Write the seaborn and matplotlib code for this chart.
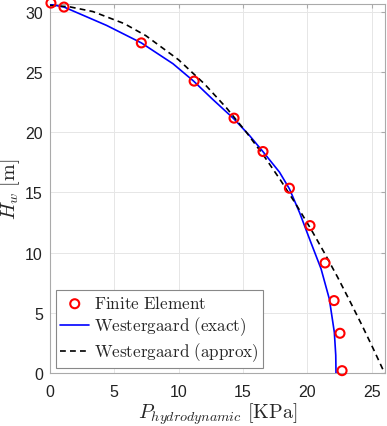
import matplotlib
matplotlib.use("Agg")
import matplotlib.pyplot as plt
import seaborn as sns
import pandas as pd

# Finite Element results (pressure in KPa, height in m)
fe_p = [0.08, 1.09, 7.1, 11.2, 14.3, 16.55, 18.6, 20.2, 21.37, 22.07, 22.53, 22.69]
fe_h = [30.7, 30.37, 27.4, 24.23, 21.16, 18.39, 15.35, 12.25, 9.15, 6.03, 3.32, 0.22]

# Westergaard (exact)
exact_p = [0.0, 1.1, 4.4, 7.1, 9.56, 11.16, 12.66, 14.29, 15.5, 16.54, 17.83,
           18.6, 19.4, 20.16, 21.06, 21.7, 22.09, 22.2, 22.22]
exact_h = [30.6, 30.37, 28.85, 27.4, 25.67, 24.23, 22.7, 21.1, 19.72, 18.39, 16.68,
           15.3, 13.3, 11.15, 8.66, 6.17, 3.4, 1.5, 0.0]

# Westergaard (approx)
approx_p = [0.0, 1.49, 3.33, 5.77, 7.45, 9.99, 12.0, 13.72, 15.25, 16.64, 17.92,
            19.12, 20.25, 21.31, 22.33, 23.29, 24.23, 25.13, 26.0]
approx_h = [30.5, 30.4, 30.0, 29.0, 28.0, 26.0, 24.0, 22.0, 20.0, 18.0, 16.0,
            14.0, 12.0, 10.0, 8.0, 6.0, 4.0, 2.0, 0.0]

fe = pd.DataFrame({"p": fe_p, "h": fe_h})
exact = pd.DataFrame({"p": exact_p, "h": exact_h})
approx = pd.DataFrame({"p": approx_p, "h": approx_h})

sns.set_style("whitegrid")
plt.rcParams["font.family"] = ["Liberation Sans", "DejaVu Sans"]
plt.rcParams["mathtext.fontset"] = "cm"

fig = plt.figure(figsize=(3.87, 4.27), dpi=100)
ax = fig.add_axes([0.129, 0.1234, 0.865, 0.8656])

sns.scatterplot(data=fe, x="p", y="h", ax=ax, marker="o", s=42,
                facecolor="none", edgecolor="red", linewidth=1.5,
                label=r"$\mathrm{Finite\ Element}$", clip_on=False, zorder=4)
sns.lineplot(data=exact, x="p", y="h", ax=ax, sort=False, color="blue",
             linewidth=1.2, label=r"$\mathrm{Westergaard\ (exact)}$", zorder=3)
sns.lineplot(data=approx, x="p", y="h", ax=ax, sort=False, color="black",
             linewidth=1.2, linestyle=(0, (3.5, 2.5)),
             label=r"$\mathrm{Westergaard\ (approx)}$", zorder=3)

ax.set_xlim(0, 26)
ax.set_ylim(0, 30.65)
ax.set_xticks([0, 5, 10, 15, 20, 25])
ax.set_yticks([0, 5, 10, 15, 20, 25, 30])
ax.grid(True, color="#e6e6e6", linewidth=0.7)
for s in ax.spines.values():
    s.set_color("#aaaaaa")
    s.set_linewidth(0.8)
ax.tick_params(direction="in", length=3, color="#aaaaaa", labelsize=11.5,
               labelcolor="#222222", top=True, right=True)
ax.tick_params(axis="x", pad=8)
ax.tick_params(axis="y", pad=5)

ax.set_xlabel(r"$P_{hydrodynamic}\ [\mathrm{KPa}]$", fontsize=14.5, labelpad=1)
ax.set_ylabel(r"$H_w\ [\mathrm{m}]$", fontsize=14.5, labelpad=2)

leg = ax.legend(loc="lower left", bbox_to_anchor=(0.018, 0.015), fontsize=12.3,
                frameon=True, fancybox=False, framealpha=1, edgecolor="#888888",
                handlelength=1.7, handletextpad=0.25, borderpad=0.25,
                labelspacing=0.2, borderaxespad=0)
leg.get_frame().set_linewidth(0.8)

fig.savefig("out.png", dpi=100)
plt.close(fig)
